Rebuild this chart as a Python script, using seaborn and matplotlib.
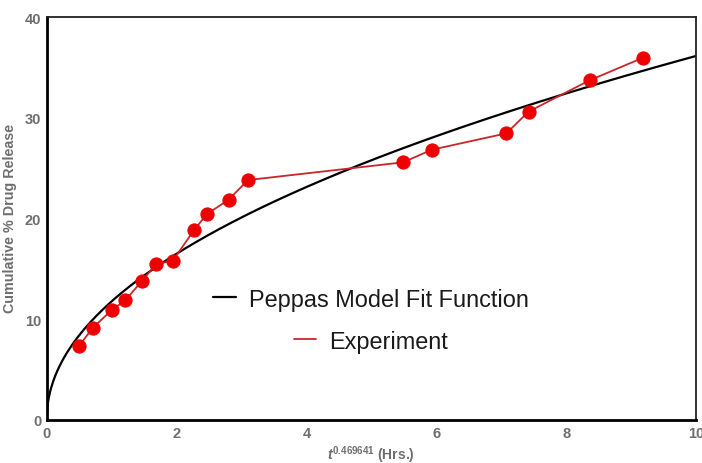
import numpy as np
import pandas as pd
import matplotlib
matplotlib.use("Agg")
import matplotlib.pyplot as plt
from matplotlib.lines import Line2D
import seaborn as sns

# Experimental data (x = t^0.469641, y = cumulative % drug release)
exp_x = [0.50, 0.71, 1.00, 1.21, 1.47, 1.69, 1.94, 2.27, 2.47, 2.80, 3.10,
         5.49, 5.93, 7.08, 7.42, 8.36, 9.18]
exp_y = [7.38, 9.14, 10.92, 11.88, 13.83, 15.52, 15.79, 18.87, 20.46, 21.87, 23.83,
         25.59, 26.84, 28.47, 30.62, 33.73, 35.97]

# Peppas model fit parameters (y = k * x^n), estimated from the curve
peppas_k = 11.78
peppas_n = 0.487

x_ticks = [0, 2, 4, 6, 8, 10]
y_ticks = [0, 10, 20, 30, 40]

sns.set_theme(style="white")
plt.rcParams['font.family'] = ['Liberation Sans', 'DejaVu Sans']
plt.rcParams['mathtext.fontset'] = 'custom'
plt.rcParams['mathtext.it'] = 'Liberation Sans:italic:bold'
plt.rcParams['mathtext.rm'] = 'Liberation Sans:bold'
plt.rcParams['mathtext.bf'] = 'Liberation Sans:bold'

fit_x = np.linspace(0, 10, 600)
fit_df = pd.DataFrame({"x": fit_x, "y": peppas_k * fit_x ** peppas_n})
exp_df = pd.DataFrame({"x": exp_x, "y": exp_y})

fig = plt.figure(figsize=(7.02, 4.64), dpi=100)
ax = fig.add_axes([0.0665, 0.0927, 0.925, 0.868])

sns.lineplot(data=fit_df, x="x", y="y", ax=ax, color="black", linewidth=1.6,
             estimator=None, sort=False)
sns.lineplot(data=exp_df, x="x", y="y", ax=ax, color="#c8262a", linewidth=1.3,
             estimator=None, sort=False, marker="o", markersize=9.5,
             markerfacecolor="#ee0000", markeredgecolor="#ee0000")

ax.set_xlim(0, 10)
ax.set_ylim(0, 40)
ax.set_xticks(x_ticks)
ax.set_yticks(y_ticks)
gray = "#6e6e6e"
ax.tick_params(axis="both", colors=gray, labelsize=10.5, length=0, pad=4)
for lab in ax.get_xticklabels() + ax.get_yticklabels():
    lab.set_fontweight("bold")

ax.set_xlabel(r"$t^{\mathrm{0.469641}}$ (Hrs.)", color=gray, fontsize=10,
              fontweight="bold", labelpad=3)
ax.set_ylabel("Cumulative % Drug Release", color=gray, fontsize=10.3,
              fontweight="bold")
ax.yaxis.set_label_coords(-0.045, 0.502)

for side in ["left", "bottom"]:
    ax.spines[side].set_linewidth(2.0)
    ax.spines[side].set_color("black")
for side in ["top", "right"]:
    ax.spines[side].set_linewidth(1.3)
    ax.spines[side].set_color("#222222")

# legend: two right-aligned entries
h_fit = Line2D([0], [0], color="black", linewidth=1.6)
h_exp = Line2D([0], [0], color="#c8262a", linewidth=1.3)
leg_kw = dict(loc="center right", frameon=False, fontsize=16.9,
              handlelength=0.95, handletextpad=0.55, borderpad=0,
              borderaxespad=0)
leg1 = ax.legend([h_fit], ["Peppas Model Fit Function"],
                 bbox_to_anchor=(0.742, 0.300), **leg_kw)
ax.add_artist(leg1)
ax.legend([h_exp], ["Experiment"], bbox_to_anchor=(0.618, 0.196), **leg_kw)
for leg in ax.get_legend(), leg1:
    for t in leg.get_texts():
        t.set_color("#1a1a1a")

fig.savefig("out.png", dpi=100)
